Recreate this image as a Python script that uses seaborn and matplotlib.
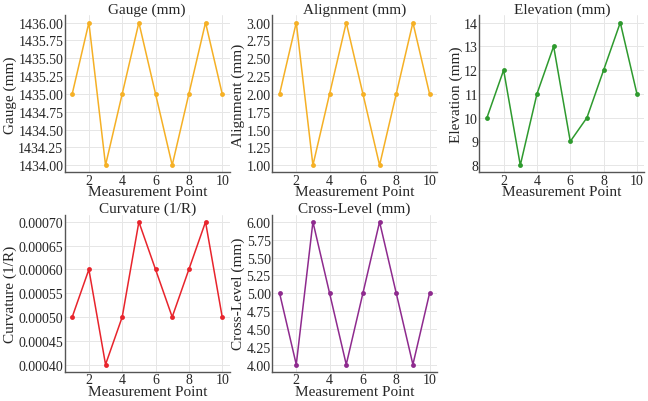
import numpy as np
import pandas as pd
import matplotlib
matplotlib.use("Agg")
import matplotlib.pyplot as plt
import seaborn as sns

points = list(range(1, 11))
gauge = [1435, 1436, 1434, 1435, 1436, 1435, 1434, 1435, 1436, 1435]
alignment = [2, 3, 1, 2, 3, 2, 1, 2, 3, 2]
elevation = [10, 12, 8, 11, 13, 9, 10, 12, 14, 11]
curvature = [0.0005, 0.0006, 0.0004, 0.0005, 0.0007, 0.0006, 0.0005, 0.0006, 0.0007, 0.0005]
cross_level = [5, 4, 6, 5, 4, 5, 6, 5, 4, 5]

gauge_ticks = [1434.0, 1434.25, 1434.5, 1434.75, 1435.0, 1435.25, 1435.5, 1435.75, 1436.0]
alignment_ticks = [1.0, 1.25, 1.5, 1.75, 2.0, 2.25, 2.5, 2.75, 3.0]
elevation_ticks = [8, 9, 10, 11, 12, 13, 14]
curvature_ticks = [0.0004, 0.00045, 0.0005, 0.00055, 0.0006, 0.00065, 0.0007]
cross_ticks = [4.0, 4.25, 4.5, 4.75, 5.0, 5.25, 5.5, 5.75, 6.0]

panels = [
    ("Gauge (mm)", gauge, "#f5b025", "{:.2f}", gauge_ticks),
    ("Alignment (mm)", alignment, "#f5b025", "{:.2f}", alignment_ticks),
    ("Elevation (mm)", elevation, "#2e9a2e", "{:.0f}", elevation_ticks),
    ("Curvature (1/R)", curvature, "#e8242c", "{:.5f}", curvature_ticks),
    ("Cross-Level (mm)", cross_level, "#8e2a8e", "{:.2f}", cross_ticks),
]

sns.set_theme(style="whitegrid")
plt.rcParams["font.family"] = ["Liberation Serif", "DejaVu Serif"]

fig, axes = plt.subplots(2, 3, figsize=(6.48, 4.02), dpi=100)
axes = axes.flatten()

for ax, (name, vals, color, fmt, ticks) in zip(axes, panels):
    df = pd.DataFrame({"Measurement Point": points, name: vals})
    sns.lineplot(data=df, x="Measurement Point", y=name, ax=ax, color=color,
                 marker="o", markersize=3.5, markeredgewidth=0, linewidth=1.1)
    ax.set_title(name, fontsize=11, pad=2)
    ax.set_xlabel("Measurement Point", fontsize=11, labelpad=-1)
    ax.set_ylabel(name, fontsize=11, labelpad=1)
    ax.set_xticks([2, 4, 6, 8, 10])
    ax.set_yticks(ticks)
    ax.yaxis.set_major_formatter(matplotlib.ticker.FuncFormatter(lambda v, p, f=fmt: f.format(v)))
    ax.tick_params(axis="both", labelsize=10, pad=1, length=0)
    ax.grid(True, color="#e6e6e6", linewidth=0.7)
    for s in ["top", "right"]:
        ax.spines[s].set_visible(False)
    for s in ["left", "bottom"]:
        ax.spines[s].set_color("#555555")
        ax.spines[s].set_linewidth(1.0)

axes[5].axis("off")

plt.tight_layout(pad=0.2, w_pad=0.1, h_pad=0.2)
plt.savefig("out.png", dpi=100)
